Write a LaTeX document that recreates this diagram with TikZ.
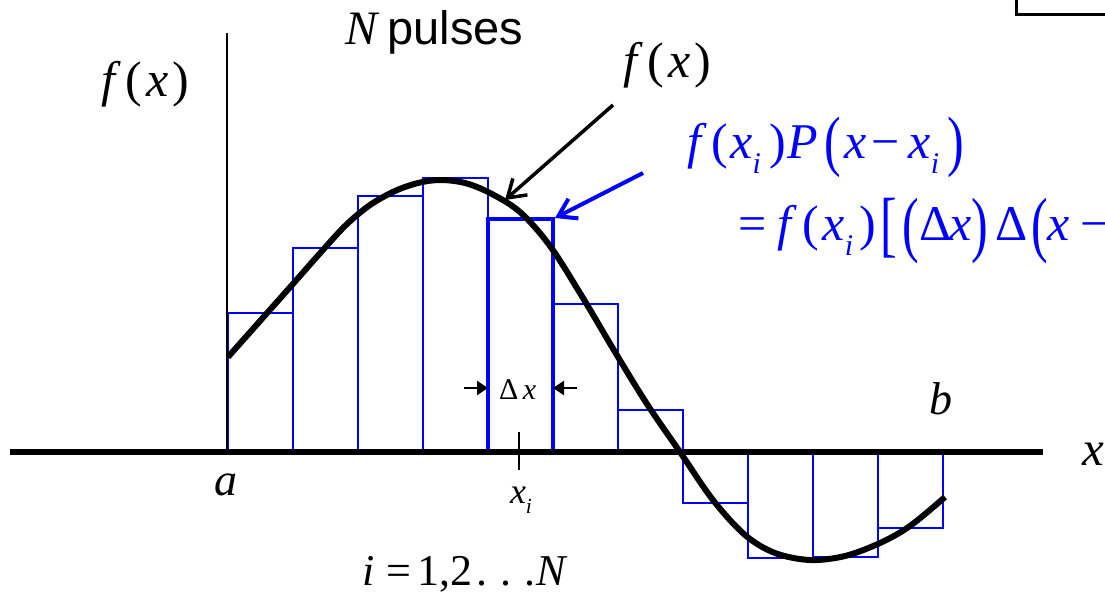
\documentclass[tikz,border=0pt]{standalone}
\usepackage{fontspec}
\usepackage{graphicx}
\setmainfont{Liberation Serif}
\newfontfamily\tnr{Liberation Serif}
\newfontfamily\arialf{Liberation Sans}
\usetikzlibrary{arrows.meta}
\definecolor{pblue}{RGB}{0,0,255}
\newcommand\fs[1]{\fontsize{#1}{#1}\selectfont}
\newcommand\hs[1]{\hspace{#1em}}
\newcommand\subi{\raisebox{-0.3em}{\scalebox{0.6}{\textit{i}}}}
\newcommand\tallp[1]{\raisebox{-0.11em}{\scalebox{1}[1.34]{#1}}}
\newcommand\tallb[1]{\raisebox{-0.16em}{\scalebox{1}[1.45]{#1}}}
\begin{document}
\begin{tikzpicture}[x=1pt,y=-1pt,
  bar/.style={draw=pblue,line width=2pt},
  hbar/.style={draw=pblue,line width=4pt},
  lbl/.style={inner sep=0pt,anchor=base,font=\tnr},
  lblw/.style={inner sep=0pt,anchor=base west,font=\tnr},
  curve/.style={line width=6pt,line join=round},
  axisline/.style={line width=6pt},
  thinline/.style={line width=2pt},
  blackarrow/.style={line width=3.5pt,-{Straight Barb[length=17pt,width=22pt,line width=3.5pt]}},
  bluearrow/.style={draw=pblue,line width=4pt,-{Straight Barb[length=17pt,width=22pt,line width=4pt]}},
  dxarrow/.style={line width=2.5pt,-{Triangle[length=11pt,width=14pt]}}]
\path[use as bounding box] (0,0) rectangle (1105,599);
\clip (0,0) rectangle (1105,599);
\fill[white] (0,0) rectangle (1105,599);
% bars
\foreach \l/\r/\t in {228/293/313, 293/358/248, 358/423/196, 423/488/178,
  553/618/304, 618/683/410, 683/748/503, 748/813/558, 813/878/557, 878/943/528}
  \draw[bar] (\l,452) rectangle (\r,\t);
\draw[hbar] (488,452) rectangle (553,219);
% y axis
\coordinate (ytop) at (226.5,33);
\coordinate (ybot) at (226.5,452);
\draw[thinline] (ytop) -- (ybot);
% curve
\draw[curve] plot[smooth,tension=0.55] coordinates {(228,357) (260,321) (292,285) (322,251) (346,225) (370,205) (395,191) (418,183) (440,180) (465,183) (490,193) (520,212) (550,246) (583,298) (615,352) (647,404) (680,452) (713,500) (745,535) (775,553) (810,560) (845,556) (880,543) (910,526) (945,497)};
% x axis
\coordinate (xl) at (10,452);
\coordinate (xr) at (1043,452);
\draw[axisline] (xl) -- (xr);
% top-right corner
\coordinate (c1) at (1016.5,0);
\coordinate (c2) at (1016.5,15);
\coordinate (c3) at (1105,15);
\draw[line width=3pt] (c1) -- (c2) -- (c3);
% tick at x_i
\coordinate (t1) at (519,432);
\coordinate (t2) at (519,470);
\draw[thinline] (t1) -- (t2);
% delta x arrows
\coordinate (dl1) at (464,388);
\coordinate (dl2) at (488,388);
\coordinate (dr1) at (577,388);
\coordinate (dr2) at (553,388);
\draw[dxarrow] (dl1) -- (dl2);
\draw[dxarrow] (dr1) -- (dr2);
% arrows to curve and pulse
\coordinate (ka) at (613,105);
\coordinate (kb) at (505,200);
\draw[blackarrow] (ka) -- (kb);
\coordinate (ba) at (643,173);
\coordinate (bb) at (555,218);
\draw[bluearrow] (ba) -- (bb);
% labels
\node[lblw] (npulses) at (345,45) {{\fs{48}\textit{N}}\hspace{8pt}{\arialf\fs{47}pulses}};
\node[lblw] (fxl) at (101,97) {\fs{50}\textit{f}\hs{0.1}(\hs{0.08}\textit{x}\hs{0.08})};
\node[lblw] (fxr) at (623,78) {\fs{50}\textit{f}\hs{0.1}(\hs{0.08}\textit{x}\hs{0.08})};
\node[lblw,text=pblue] (eq1) at (687,158) {\fs{50}\textit{f}\hs{0.1}(\hs{0.04}\textit{x}\subi\hs{0.16})\hs{0.03}\textit{P}\hs{0.14}\tallp{(}\hs{0.06}\textit{x}\hs{0.1}−\hs{0.18}\textit{x}\subi\hs{0.16}\tallp{)}};
\node[lblw,text=pblue] (eq2) at (738,240) {\fs{50}=\hs{0.22}\textit{f}\hs{0.1}(\hs{0.08}\textit{x}\subi\hs{0.12})\hs{0.1}\tallb{[}\hs{0.1}\tallb{(}Δ\hs{-0.04}\textit{x}\tallb{)}\hs{0.14}Δ\hs{0.08}\tallb{(}\textit{x}\hs{0.2}−};
\node[lblw] (dx) at (499,399) {\fs{30}Δ\hs{0.15}\textit{x}};
\node[lbl] (xi) at (521,503) {\fs{36}\textit{x}\subi};
\node[lbl] (la) at (226,495) {\fs{46}\textit{a}};
\node[lbl] (lb) at (941,414) {\fs{46}\textit{b}};
\node[lblw] (lx) at (1082,465) {\fs{49}\textit{x}};
\node[lblw] (lidx) at (362,585) {\fs{44}\textit{i}\hspace{12pt}=\hspace{6pt}1,2\hspace{4pt}.\hspace{13pt}.\hspace{13pt}.\hspace{1pt}\textit{N}};
\end{tikzpicture}
\end{document}
